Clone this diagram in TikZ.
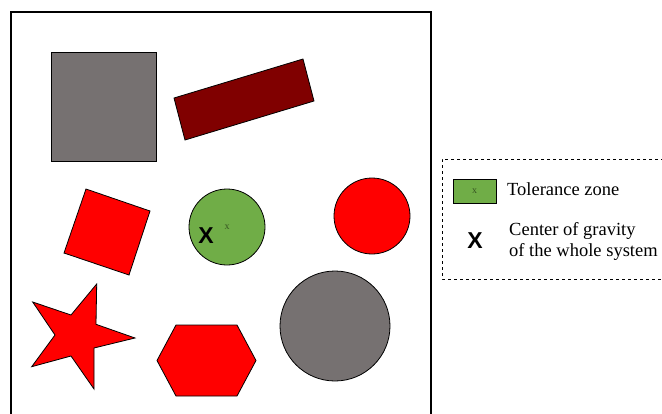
\documentclass[tikz,border=0pt]{standalone}
\usepackage{fontspec}
\setmainfont{Liberation Serif}
\newfontfamily\boldx{Liberation Sans}
\usepackage{tikz}
\usetikzlibrary{positioning}
\definecolor{shapegray}{RGB}{118,113,113}
\definecolor{darkbrick}{RGB}{128,0,0}
\definecolor{zonegreen}{RGB}{112,173,71}
\definecolor{markgreen}{RGB}{56,87,35}

\begin{document}
\begin{tikzpicture}[x=1pt,y=-1pt,
    part/.style={draw=black,line width=0.8pt},
    bigx/.style={font=\boldx\bfseries\fontsize{23}{23}\selectfont,inner sep=0pt},
    smallx/.style={font=\fontsize{10}{10}\selectfont,text=markgreen,inner sep=0pt},
    legtext/.style={font=\fontsize{18.5}{21}\selectfont,align=left,anchor=west,inner sep=0pt}]
            \useasboundingbox (0,0) rectangle (662,413);
            % frame
            \draw [black,line width=2.5pt](11,414)--(11,12)--(431,12)--(431,414);
            % parts
            \draw [part,fill=shapegray](51,52) rectangle (156,161);
            \draw [part,fill=darkbrick](174,98)--(303,59)--(314,101)--(185,140)--cycle;
            \draw [part,fill=red](86,189)--(150,211)--(129,275)--(64,253)--cycle;
            \draw [part,fill=zonegreen](227,227) circle (38);
            \draw [part,fill=red](372,216) circle (38);
            \draw [part,fill=shapegray](335,326) circle (55);
            \draw [part,fill=red](157,360.5)--(176,325)--(237,325)--(256,360.5)--(237,396)--(176,396)--cycle;
            \draw [part,fill=red](96.7,284)--(96,324.3)--(135,338)--(94,348)--(94,389)--(71,356)
                --(31.7,366.7)--(55,335)--(32.7,302)--(71,315)--cycle;
            \node [smallx] (zonex) at (227,227) {x};
            \node [bigx] (cog) at (206,236) {X};
            % legend
            \draw [black,dashed,line width=0.8pt](664,159)--(442,159)--(442,279)--(664,279);
            \node [part,fill=zonegreen,minimum width=43pt,minimum height=24pt,inner sep=0pt] (legzone) at (474.5,191) {};
            \node [smallx] (legzonex) at (legzone) {x};
            \node [legtext] (zonetext) at (507,189) {Tolerance zone};
            \node [bigx] (legcog) at (475,241) {X};
            \node [legtext] (cogtext) at (509,241.5) {Center of gravity\\of the whole system};
            \end{tikzpicture}
\end{document}
